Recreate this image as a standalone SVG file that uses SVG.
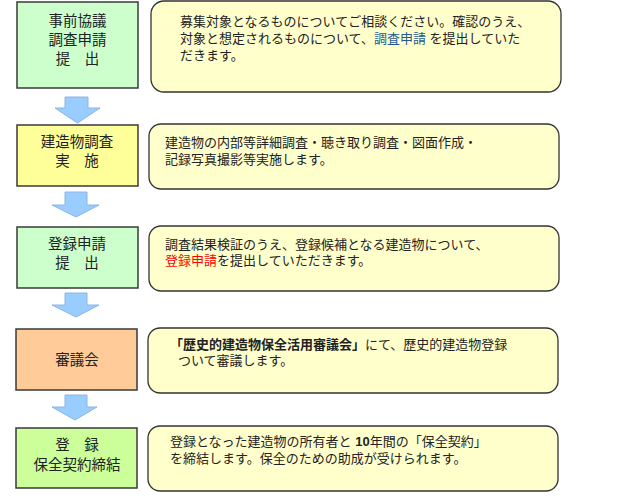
<svg xmlns="http://www.w3.org/2000/svg" width="621" height="502" viewBox="0 0 621 502">
<style>
text{font-family:"Liberation Sans","Noto Sans CJK JP",sans-serif;fill:#222}
.box{stroke:#3a3a3a;stroke-width:1.5}
.bub{fill:#FFFFCC;stroke:#333;stroke-width:1.3}
.t{font-size:14.5px;text-anchor:middle}
.d{font-size:13px}
.arr{fill:#99CCFF;stroke:#8CB4E0;stroke-width:1}
.blue{fill:#1F5A96}
.red{fill:#FF0000}
</style>
<g id="connectors">
<polygon class="arr" points="65,97 88,97 88,108 100,108 77.5,123 55,108 65,108"/>
<polygon class="arr" points="65,192 87,192 87,205 99,205 76,217 52,205 65,205"/>
<polygon class="arr" points="65,293 87,293 87,305 99,305 76,317 52,305 65,305"/>
<polygon class="arr" points="65,395 87,395 87,407 97,407 75,420 52,407 65,407"/>
</g>
<g id="node1">
<rect class="box" x="17" y="2" width="121" height="86" fill="#CCFFCC"/>
<text class="t" x="77.5" y="26">事前協議</text>
<text class="t" x="77.5" y="45">調査申請</text>
<text class="t" x="77.5" y="64">提　出</text>
</g>
<g id="desc1">
<rect class="bub" x="151" y="1" width="410" height="91" rx="13"/>
<text class="d" x="180" y="26">募集対象となるものについてご相談ください。確認のうえ、</text>
<text class="d" x="180" y="43">対象と想定されるものについて、<tspan class="blue">調査申請</tspan> を提出していた</text>
<text class="d" x="180" y="60">だきます。</text>
</g>
<g id="node2">
<rect class="box" x="17" y="125" width="121" height="61" fill="#FFFF99"/>
<text class="t" x="77" y="147">建造物調査</text>
<text class="t" x="77" y="166">実　施</text>
</g>
<g id="desc2">
<rect class="bub" x="149" y="124" width="410" height="65" rx="12"/>
<text class="d" x="165" y="147">建造物の内部等詳細調査・聴き取り調査・図面作成・</text>
<text class="d" x="165" y="164">記録写真撮影等実施します。</text>
</g>
<g id="node3">
<rect class="box" x="17" y="227" width="121" height="61" fill="#CCFFCC"/>
<text class="t" x="77" y="249">登録申請</text>
<text class="t" x="77" y="268">提　出</text>
</g>
<g id="desc3">
<rect class="bub" x="149" y="226" width="410" height="65" rx="12"/>
<text class="d" x="165" y="249">調査結果検証のうえ、登録候補となる建造物について、</text>
<text class="d" x="165" y="265"><tspan class="red">登録申請</tspan>を提出していただきます。</text>
</g>
<g id="node4">
<rect class="box" x="16" y="329" width="121" height="61" fill="#FFCC99"/>
<text class="t" x="77" y="365">審議会</text>
</g>
<g id="desc4">
<rect class="bub" x="148" y="328" width="410" height="65" rx="12"/>
<text class="d" x="170" y="349"><tspan font-weight="bold">「歴史的建造物保全活用審議会」</tspan>にて、歴史的建造物登録</text>
<text class="d" x="178" y="365">ついて審議します。</text>
</g>
<g id="node5">
<rect class="box" x="16" y="428" width="121" height="60" fill="#CCFF99"/>
<text class="t" x="77" y="450">登　録</text>
<text class="t" x="77" y="470">保全契約締結</text>
</g>
<g id="desc5">
<rect class="bub" x="148" y="426" width="410" height="65" rx="12"/>
<text class="d" x="170" y="446">登録となった建造物の所有者と <tspan font-weight="bold">10</tspan>年間の「保全契約」</text>
<text class="d" x="170" y="463">を締結します。保全のための助成が受けられます。</text>
</g>
</svg>
